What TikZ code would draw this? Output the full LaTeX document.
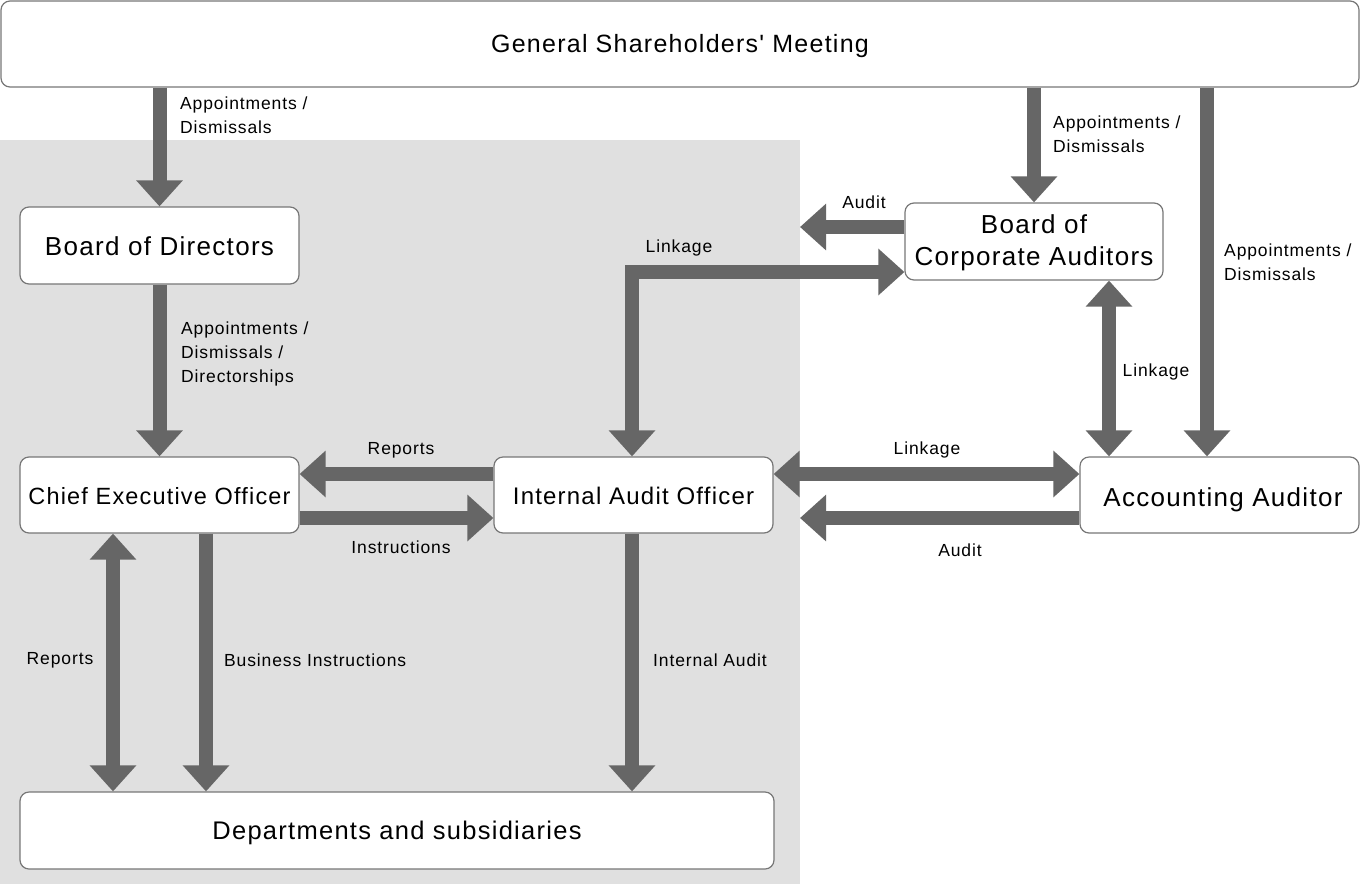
\documentclass[tikz,border=0pt]{standalone}
\usepackage{fontspec}
\newfontfamily\lsans{Liberation Sans}[LetterSpace=5.0]
\usetikzlibrary{arrows.meta}
\definecolor{arrowgray}{HTML}{666666}
\definecolor{bggray}{HTML}{E0E0E0}
\definecolor{boxline}{HTML}{777777}
\newcommand{\lowr}[2]{\raisebox{-#1}[\height][\depth]{#2}}
\begin{document}
\begin{tikzpicture}[x=1pt,y=-1pt,
  box/.style={draw=boxline, line width=1.2pt, fill=white, rounded corners=9pt, inner sep=0pt, align=center},
  bigtext/.style={font=\lsans\fontsize{#1}{30}\selectfont},
  lab/.style={inner sep=0pt, align=left, font=\lsans\fontsize{17.5}{24}\selectfont},
  flow/.style={draw=arrowgray, line width=14pt, line join=miter, -{Triangle[width=45pt,length=26pt]}},
  flow2/.style={draw=arrowgray, line width=14pt, line join=miter, {Triangle[width=45pt,length=26pt]}-{Triangle[width=45pt,length=26pt]}}]
\useasboundingbox (0,0) rectangle (1360,884);
\fill[white] (0,0) rectangle (1360,884);
\fill[bggray] (0,140) rectangle (800,884);

% boxes
\node[box, minimum width=1358pt, minimum height=86pt, bigtext=25] (gsm) at (680,44) {\lowr{2pt}{General Shareholders' Meeting}};
\node[box, minimum width=279pt, minimum height=77pt, bigtext=26] (bod) at (159.5,245.5) {\lowr{1pt}{Board of Directors}};
\node[box, minimum width=279pt, minimum height=76pt, bigtext=23.5] (ceo) at (159.5,495) {\lowr{1pt}{Chief Executive Officer}};
\node[box, minimum width=279pt, minimum height=76pt, bigtext=24] (iao) at (633.5,495) {\lowr{1pt}{Internal Audit Officer}};
\node[box, minimum width=279pt, minimum height=76pt, bigtext=26] (aa) at (1219.5,495) {\hspace*{7pt}\lowr{5pt}{Accounting Auditor}};
\node[box, minimum width=258pt, minimum height=77pt, font=\lsans\fontsize{26}{32}\selectfont] (bca) at (1034,241.5) {\lowr{2pt}{\begin{tabular}{@{}c@{}}Board of\\Corporate Auditors\end{tabular}}};
\node[box, minimum width=754pt, minimum height=77pt, bigtext=25.5] (dep) at (397,830.5) {\lowr{2pt}{Departments and subsidiaries}};

% helper coordinates
\coordinate (aaIn) at ([xshift=-12.5pt]aa.north);
\coordinate (bcaOut) at ([yshift=14.5pt]bca.west);
\coordinate (auditTipA) at (800,227);
\coordinate (bcaLink) at ([yshift=-30.5pt]bca.west);
\coordinate (iaoLink) at ([xshift=-1.5pt]iao.north);
\coordinate (bcaDown) at ([xshift=75pt]bca.south);
\coordinate (iaoUp) at ([yshift=21pt]iao.west);
\coordinate (ceoLow) at ([yshift=-23pt]ceo.east);
\coordinate (iaoUpR) at ([yshift=21pt]iao.east);
\coordinate (aaLow) at ([yshift=-23pt]aa.west);
\coordinate (auditTipB) at (800,518);
\coordinate (ceoL) at ([xshift=-46.5pt]ceo.south);
\coordinate (ceoR) at ([xshift=46.5pt]ceo.south);
\coordinate (iaoD) at ([xshift=-1.5pt]iao.south);

% connectors
\draw[flow] (gsm.south -| bod.north) -- (bod.north);
\draw[flow] (bod.south) -- (ceo.north);
\draw[flow] (gsm.south -| bca.north) -- (bca.north);
\draw[flow] (aaIn |- gsm.south) -- (aaIn);
\draw[flow] (bcaOut) -- (auditTipA);
\draw[flow2] (iaoLink) |- (bcaLink);
\draw[flow2] (bcaDown) -- (bcaDown |- aa.north);
\draw[flow] (iaoUp) -- (iaoUp -| ceo.east);
\draw[flow] (ceoLow) -- (ceoLow -| iao.west);
\draw[flow2] (iaoUpR) -- (iaoUpR -| aa.west);
\draw[flow] (aaLow) -- (auditTipB);
\draw[flow2] (ceoL) -- (ceoL |- dep.north);
\draw[flow] (ceoR) -- (ceoR |- dep.north);
\draw[flow] (iaoD) -- (iaoD |- dep.north);

% labels
\node[lab, anchor=west] (l1) at (180,115) {Appointments /\\Dismissals};
\node[lab, anchor=west] (l2) at (181,354) {Appointments /\\Dismissals /\\Directorships};
\node[lab, anchor=west] (l3) at (1053,134) {Appointments /\\Dismissals};
\node[lab, anchor=west] (l4) at (1224,262) {Appointments /\\Dismissals};
\node[lab] (l5) at (864,202) {Audit};
\node[lab] (l6) at (679,248) {Linkage};
\node[lab] (l7) at (1156,372) {Linkage};
\node[lab] (l8) at (401,450) {Reports};
\node[lab] (l9) at (401,547) {Instructions};
\node[lab] (l10) at (927,450) {Linkage};
\node[lab] (l11) at (960,550) {Audit};
\node[lab] (l12) at (60,660) {Reports};
\node[lab, anchor=west] (l13) at (224,660) {Business Instructions};
\node[lab, anchor=west] (l14) at (653,660) {Internal Audit};
\end{tikzpicture}
\end{document}
